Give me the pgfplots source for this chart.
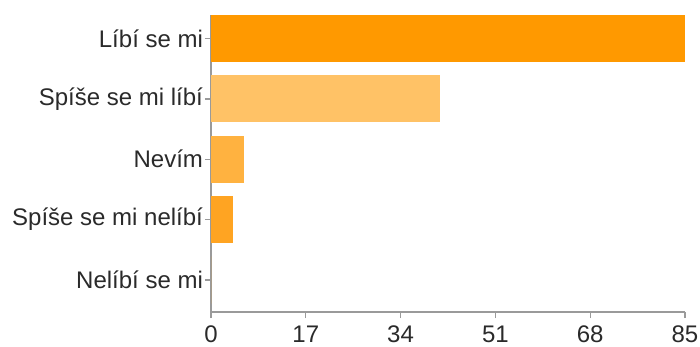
\documentclass[border=0pt]{standalone}
\usepackage{pgfplots}
\pgfplotsset{compat=1.18}
\usepackage{fontspec}
\setmainfont{Liberation Sans}
\definecolor{c1}{HTML}{FF9900}
\definecolor{c2}{HTML}{FFC266}
\definecolor{c3}{HTML}{FFB240}
\definecolor{c4}{HTML}{FFA422}
\definecolor{axgray}{HTML}{9A9A9A}
\definecolor{txt}{HTML}{2A2A2A}
\begin{document}
\begin{tikzpicture}
\useasboundingbox (-105.5pt,-17.5pt) rectangle (244.5pt,156pt);
\begin{axis}[
  at={(0,0)}, anchor=south west,
  scale only axis, width=237pt, height=148.5pt,
  xbar, bar width=0.78, bar shift=0pt,
  xmin=0, xmax=85, ymin=-0.53, ymax=4.39,
  xtick={0,17,34,51,68,85},
  ytick={0,1,2,3,4},
  yticklabels={Nelíbí se mi, Spíše se mi nelíbí, Nevím, Spíše se mi líbí, Líbí se mi},
  axis x line*=bottom, axis y line*=left,
  axis line style={draw=axgray, line width=0.6pt, -},
  tick style={draw=axgray, line width=0.6pt},
  major tick length=3pt,
  tick align=outside,
  every tick label/.append style={font=\fontsize{12}{14}\selectfont, text=txt},
  xticklabel style={yshift=-0.5pt},
  yticklabel style={xshift=2.5pt},
  /pgf/number format/assume math mode=true,
  clip=false,
]
\addplot[fill=c1, draw=none] coordinates {(85,4)};
\addplot[fill=c2, draw=none] coordinates {(41,3)};
\addplot[fill=c3, draw=none] coordinates {(6,2)};
\addplot[fill=c4, draw=none] coordinates {(4,1)};
\addplot[fill=c4, draw=none] coordinates {(0,0)};
\end{axis}
\end{tikzpicture}
\end{document}
